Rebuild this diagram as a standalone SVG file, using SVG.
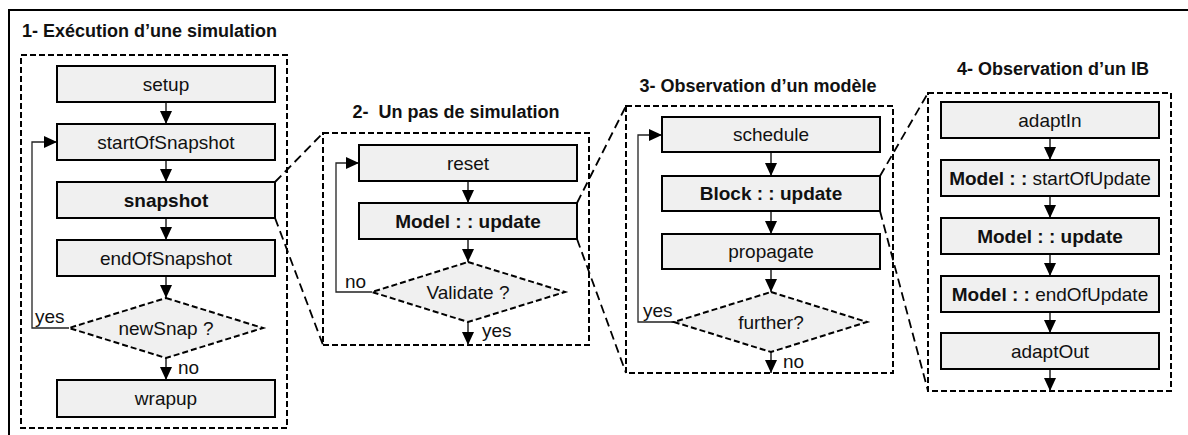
<svg xmlns="http://www.w3.org/2000/svg" width="1188" height="435" viewBox="0 0 1188 435">
<defs>
<marker id="ah" markerUnits="userSpaceOnUse" markerWidth="13" markerHeight="12" refX="13" refY="6" orient="auto">
<path d="M0,0 L13,6 L0,12 z" fill="#000"/>
</marker>
</defs>
<style>
.frame{fill:none;stroke:#000;stroke-width:2}
.panel{fill:none;stroke:#000;stroke-width:2;stroke-dasharray:6 3}
.zoom{fill:none;stroke:#000;stroke-width:1.8;stroke-dasharray:9 5}
.box{fill:#f0f0f0;stroke:#000;stroke-width:2}
.dia{fill:#f0f0f0;stroke:#000;stroke-width:2;stroke-dasharray:6 3}
.arr{fill:none;stroke:#222;stroke-width:1.5;marker-end:url(#ah)}
.loop{fill:none;stroke:#222;stroke-width:1.3;marker-end:url(#ah)}
text{font-family:"Liberation Sans",Arial,sans-serif;fill:#111}
.t{font-size:19px;text-anchor:middle}
.b{font-weight:bold}
.title{font-size:18px;font-weight:bold}
.lbl{font-size:19px}
</style>
<rect class="frame" x="9" y="10" width="1195" height="445"/>

<g id="titles">
<text class="title" x="22" y="37">1- Exécution d’une simulation</text>
<text class="title" x="456" y="118" text-anchor="middle" xml:space="preserve">2-  Un pas de simulation</text>
<text class="title" x="758" y="92" text-anchor="middle">3- Observation d’un modèle</text>
<text class="title" x="1053" y="75" text-anchor="middle">4- Observation d’un IB</text>
</g>

<g id="panels">
<rect class="panel" x="21" y="55" width="266" height="373"/>
<rect class="panel" x="323" y="133" width="266" height="212"/>
<rect class="panel" x="626" y="106" width="267" height="267"/>
<rect class="panel" x="928" y="93" width="243" height="298"/>
</g>

<g id="connectors">
<path class="zoom" d="M275,182 L323,133 M275,218 L323,345"/>
<path class="zoom" d="M577,203 L626,106 M577,239 L626,373"/>
<path class="zoom" d="M880,176 L928,93 M880,211 L928,391"/>
<path class="arr" d="M166,102 V124"/>
<path class="arr" d="M166,160 V182"/>
<path class="arr" d="M166,218 V240"/>
<path class="arr" d="M166,276 V298"/>
<path class="arr" d="M166,358 V380"/>
<path class="loop" d="M69,328 H32 V142 H57"/>
<path class="arr" d="M468,181 V203"/>
<path class="arr" d="M468,239 V262"/>
<path class="arr" d="M468,322 V345"/>
<path class="loop" d="M372,292 H336 V163 H359"/>
<path class="arr" d="M771,152 V176"/>
<path class="arr" d="M771,211 V234"/>
<path class="arr" d="M771,269 V292"/>
<path class="arr" d="M771,352 V373"/>
<path class="loop" d="M674,322 H638 V135 H662"/>
<path class="arr" d="M1050,138 V160"/>
<path class="arr" d="M1050,196 V218"/>
<path class="arr" d="M1050,254 V276"/>
<path class="arr" d="M1050,312 V333"/>
<path class="arr" d="M1050,369 V391"/>
</g>

<g id="p1-setup"><rect class="box" x="57" y="66" width="218" height="36"/><text class="t" x="166" y="90.5">setup</text></g>
<g id="p1-startOfSnapshot"><rect class="box" x="57" y="124" width="218" height="36"/><text class="t" x="166" y="148.5">startOfSnapshot</text></g>
<g id="p1-snapshot"><rect class="box" x="57" y="182" width="218" height="36"/><text class="t b" x="166" y="206.5">snapshot</text></g>
<g id="p1-endOfSnapshot"><rect class="box" x="57" y="240" width="218" height="36"/><text class="t" x="166" y="264.5">endOfSnapshot</text></g>
<g id="p1-newSnap"><polygon class="dia" points="166,298 263,328 166,358 69,328"/><text class="t" x="166" y="335">newSnap ?</text></g>
<g id="p1-wrapup"><rect class="box" x="57" y="380" width="218" height="37"/><text class="t" x="166" y="405">wrapup</text></g>
<g id="p1-labels"><text class="lbl" x="35" y="323">yes</text><text class="lbl" x="178" y="374">no</text></g>

<g id="p2-reset"><rect class="box" x="359" y="145" width="218" height="36"/><text class="t" x="468" y="169.5">reset</text></g>
<g id="p2-update"><rect class="box" x="359" y="203" width="218" height="36"/><text class="t b" x="468" y="227.5">Model : : update</text></g>
<g id="p2-validate"><polygon class="dia" points="468,262 565,292 468,322 372,292"/><text class="t" x="468" y="299">Validate ?</text></g>
<g id="p2-labels"><text class="lbl" x="345" y="288">no</text><text class="lbl" x="482" y="337">yes</text></g>

<g id="p3-schedule"><rect class="box" x="662" y="117" width="218" height="35"/><text class="t" x="771" y="141">schedule</text></g>
<g id="p3-blockupdate"><rect class="box" x="662" y="176" width="218" height="35"/><text class="t b" x="771" y="200">Block : : update</text></g>
<g id="p3-propagate"><rect class="box" x="662" y="234" width="218" height="35"/><text class="t" x="771" y="258">propagate</text></g>
<g id="p3-further"><polygon class="dia" points="771,292 867,322 771,352 674,322"/><text class="t" x="771" y="329">further?</text></g>
<g id="p3-labels"><text class="lbl" x="643" y="317">yes</text><text class="lbl" x="783" y="368">no</text></g>

<g id="p4-adaptIn"><rect class="box" x="941" y="102" width="218" height="36"/><text class="t" x="1050" y="126.5">adaptIn</text></g>
<g id="p4-startOfUpdate"><rect class="box" x="941" y="160" width="218" height="36"/><text class="t" x="1050" y="184.5"><tspan class="b">Model : : </tspan>startOfUpdate</text></g>
<g id="p4-update"><rect class="box" x="941" y="218" width="218" height="36"/><text class="t b" x="1050" y="242.5">Model : : update</text></g>
<g id="p4-endOfUpdate"><rect class="box" x="941" y="276" width="218" height="36"/><text class="t" x="1050" y="300.5"><tspan class="b">Model : : </tspan>endOfUpdate</text></g>
<g id="p4-adaptOut"><rect class="box" x="941" y="333" width="218" height="36"/><text class="t" x="1050" y="357.5">adaptOut</text></g>
</svg>
